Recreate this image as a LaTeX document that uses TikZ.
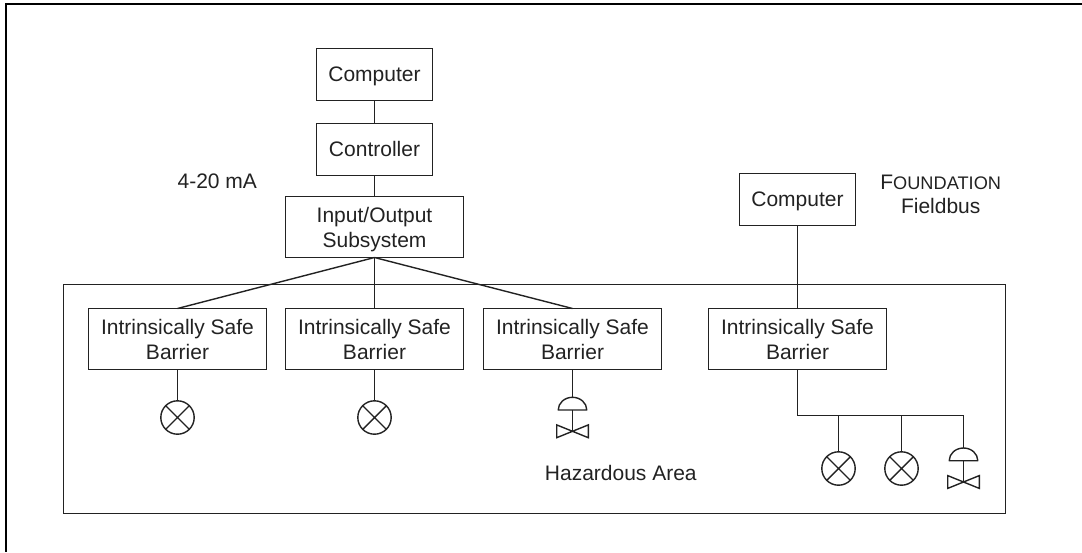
\documentclass[tikz,border=0pt]{standalone}
\usepackage{fontspec}
\setmainfont{Liberation Sans}
\definecolor{ink}{HTML}{222222}
\tikzset{
  txt/.style={font=\fontsize{21}{25}\selectfont,text=ink,inner sep=0pt,outer sep=0pt,align=center},
  lbl/.style={txt,anchor=base},
  box/.style={txt,draw=ink,line width=1.4pt,rectangle,minimum width=#1},
  box/.default=178pt,
  bx/.style={box=116pt,minimum height=52pt,text height=16pt,text depth=1.6pt},
  dbl/.style={box=178pt,minimum height=61pt},
  wire/.style={draw=ink,line width=1.4pt},
  lamp/.style={circle,draw=ink,line width=1.4pt,minimum size=33.4pt,inner sep=0pt,outer sep=0pt,
    path picture={\draw[ink,line width=1.4pt]
      (path picture bounding box.north west)--(path picture bounding box.south east)
      (path picture bounding box.north east)--(path picture bounding box.south west);}},
}
\newcommand{\valvesym}[3]{% name, x, top y
  \coordinate (#1top) at (#2,#3);
  \coordinate (#1base) at (#2,#3+12.7);
  \coordinate (#1mid) at (#2,#3+34);
  \draw[wire,line join=round] ([xshift=-14.3pt]#1base) arc[start angle=180,end angle=0,x radius=14.3pt,y radius=12.7pt] -- cycle;
  \draw[wire] (#1base) -- (#1mid);
  \draw[wire,line join=miter] (#1mid) -- ++(-15.8,-6.4) -- ++(0,12.8) -- cycle;
  \draw[wire,line join=miter] (#1mid) -- ++(15.8,-6.4) -- ++(0,12.8) -- cycle;
}
\begin{document}
\begin{tikzpicture}[x=1pt,y=-1pt]
\useasboundingbox (0,0) rectangle (1082,552);
\draw[black,line width=2pt,line cap=butt] (1082,4.3) -- (5.5,4.3) -- (5.5,552);
\node[draw=ink,line width=1.4pt,rectangle,minimum width=942pt,minimum height=229pt,inner sep=0pt,outer sep=0pt] (hazard) at (534.5,399) {};

\node[bx] (comp1) at (374.5,74.5) {Computer};
\node[bx] (ctrl) at (374.5,149.5) {Controller};
\node[dbl] (io) at (374.5,227) {Input/Output\\\smash{Subsystem}};
\node[dbl] (b1) at (177.5,339) {Intrinsically Safe\\Barrier};
\node[dbl] (b2) at (374.5,339) {Intrinsically Safe\\Barrier};
\node[dbl] (b3) at (572.5,339) {Intrinsically Safe\\Barrier};
\node[dbl] (b4) at (797.5,339) {Intrinsically Safe\\Barrier};
\node[bx] (comp2) at (797.5,199.5) {Computer};

\node[lamp] (l1) at (177.5,417.5) {};
\node[lamp] (l2) at (374.5,417.5) {};
\node[lamp] (l3) at (838.5,468.5) {};
\node[lamp] (l4) at (901.5,468.5) {};
\valvesym{va}{572.5}{397.3}
\valvesym{vb}{963.5}{448}
\coordinate (bus) at (797.5,415.5);
\coordinate (busa) at (838.5,415.5);
\coordinate (busb) at (901.5,415.5);
\coordinate (busc) at (963.5,415.5);

\draw[wire] (comp1) -- (ctrl);
\draw[wire] (ctrl) -- (io);
\draw[wire] (io.south) -- (b1.north);
\draw[wire] (io.south) -- (b2.north);
\draw[wire] (io.south) -- (b3.north);
\draw[wire] (b1) -- (l1);
\draw[wire] (b2) -- (l2);
\draw[wire] (b3.south) -- (vatop);
\draw[wire] (comp2.south) -- (b4.north);
\draw[wire,line join=miter] (b4.south) -- (bus) -- (busc) -- (vbtop);
\draw[wire] (busa) -- (l3);
\draw[wire] (busb) -- (l4);

\node[lbl] (t420) at (217.3,188.7) {4-20 mA};
\node[lbl] (tfound) at (940.7,189) {F\fontsize{18.2}{25}\selectfont OUNDATION};
\node[lbl] (tfield) at (940.7,213.3) {Fieldbus};
\node[lbl] (thaz) at (620.8,480) {Hazardous Area};
\end{tikzpicture}
\end{document}
